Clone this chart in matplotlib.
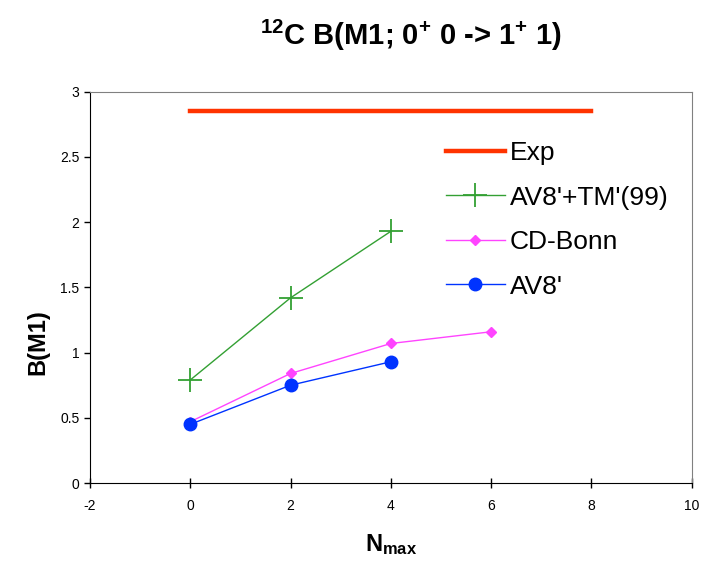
import matplotlib
matplotlib.use("Agg")
import matplotlib.pyplot as plt

plt.rcParams["font.family"] = ["Liberation Sans", "DejaVu Sans"]
plt.rcParams["mathtext.fontset"] = "custom"
plt.rcParams["mathtext.rm"] = "Liberation Sans:bold"
plt.rcParams["mathtext.bf"] = "Liberation Sans:bold"
plt.rcParams["mathtext.default"] = "bf"
plt.rcParams["axes.unicode_minus"] = False

# data
exp_x = [0, 8]
exp_y = [2.85, 2.85]
tm_x = [0, 2, 4]
tm_y = [0.79, 1.42, 1.93]
cdb_x = [0, 2, 4, 6]
cdb_y = [0.47, 0.84, 1.07, 1.16]
av8_x = [0, 2, 4]
av8_y = [0.45, 0.75, 0.93]

xticks = [-2, 0, 2, 4, 6, 8, 10]
yticks = [0, 0.5, 1, 1.5, 2, 2.5, 3]
yticklabels = ["0", "0.5", "1", "1.5", "2", "2.5", "3"]

fig = plt.figure(figsize=(7.08, 5.63), dpi=100)
ax = fig.add_axes([0.127, 0.142, 0.85, 0.695])

ax.plot(exp_x, exp_y, color="#ff3300", lw=3.2, label="Exp")
ax.plot(tm_x, tm_y, color="#33a033", lw=1.0, marker="+", ms=17, mew=1.3,
        label="AV8'+TM'(99)")
ax.plot(cdb_x, cdb_y, color="#ff44ff", lw=1.0, marker="D", ms=5,
        label="CD-Bonn")
ax.plot(av8_x, av8_y, color="#0033ff", lw=1.0, marker="o", ms=9,
        label="AV8'")

ax.set_xlim(-2, 10)
ax.set_ylim(0, 3)
ax.set_xticks(xticks)
ax.set_yticks(yticks)
ax.set_yticklabels(yticklabels)
ax.tick_params(labelsize=10, length=4, width=1, color="black")
ax.tick_params(axis="x", direction="inout", length=7, pad=8)
for s in ("top", "right"):
    ax.spines[s].set_color("#808080")
for s in ("left", "bottom"):
    ax.spines[s].set_color("black")

ax.set_ylabel("B(M1)", fontsize=17, fontweight="bold")
ax.yaxis.set_label_coords(-0.068, 0.36)
ax.set_xlabel(r"$N_{max}$", fontsize=17, labelpad=14)
fig.text(0.58, 0.938, r"$^{12}$C B(M1; 0$^{+}$ 0 -> 1$^{+}$ 1)",
         ha="center", va="center", fontsize=21, fontweight="bold")

leg = ax.legend(loc="upper left", bbox_to_anchor=(0.553, 0.935), frameon=False,
                fontsize=19, handlelength=2.2, handletextpad=0.2,
                labelspacing=0.78)

fig.savefig("out.png", dpi=100)
